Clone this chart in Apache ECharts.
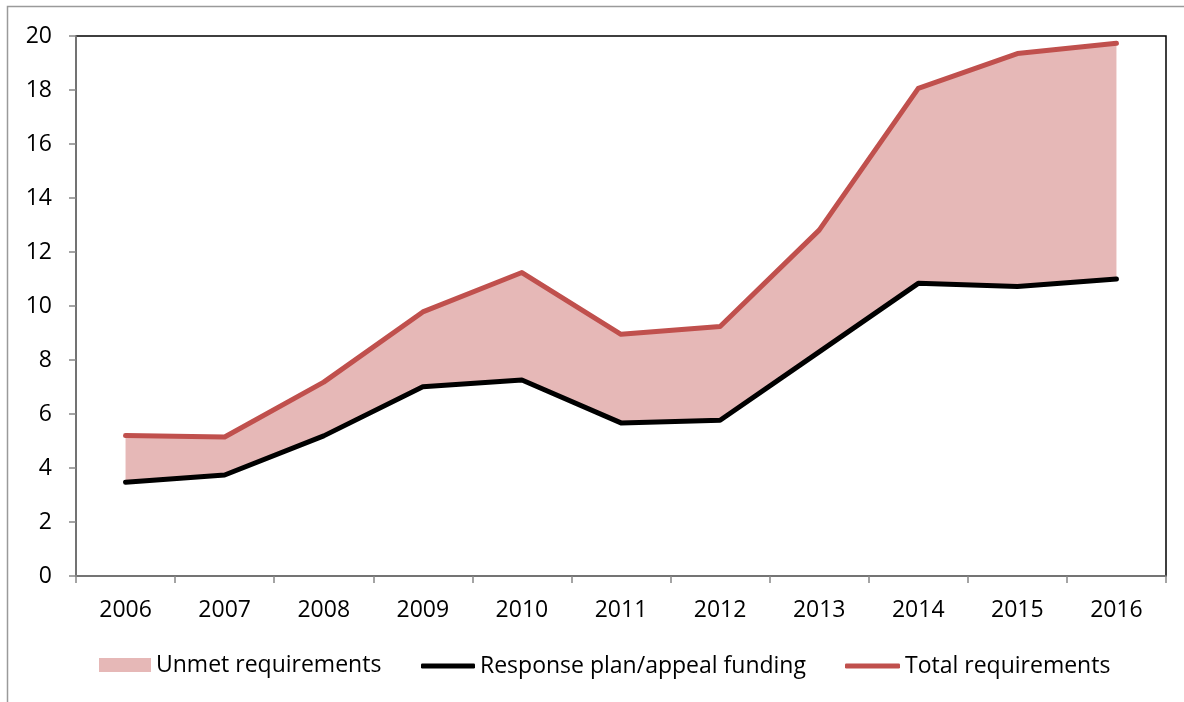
<!DOCTYPE html>
<html>
<head>
<meta charset="utf-8">
<script src="https://cdn.jsdelivr.net/npm/echarts@6/dist/echarts.min.js"></script>
<style>
html,body{margin:0;padding:0;background:#fff;}
#c{width:1184px;height:702px;}
</style>
</head>
<body>
<div id="c"></div>
<script>
var years = ['2006','2007','2008','2009','2010','2011','2012','2013','2014','2015','2016'];
var funding = [3.47, 3.74, 5.19, 7.01, 7.26, 5.67, 5.77, 8.3, 10.84, 10.72, 11.0];
var totalReq = [5.2, 5.15, 7.18, 9.78, 11.24, 8.95, 9.24, 12.81, 18.06, 19.35, 19.73];
var yTicks = {min: 0, max: 20, interval: 2};

var unmet = totalReq.map(function(v, i){ return +(v - funding[i]).toFixed(3); });

var chart = echarts.init(document.getElementById('c'), null, {renderer: 'canvas'});
var font = 'Open Sans';
var legendText = {fontFamily: font, fontSize: 23, color: '#000'};
chart.setOption({
  animation: false,
  backgroundColor: '#fff',
  graphic: [{
    type: 'rect', silent: true, z: -10,
    shape: {x: 7.5, y: 6.5, width: 1300, height: 800},
    style: {fill: 'none', stroke: '#9a9a9a', lineWidth: 1.5}
  }],
  grid: {left: 76, right: 18, top: 36, bottom: 126, show: true, borderColor: '#000', borderWidth: 1.5, backgroundColor: 'transparent'},
  legend: [
    {left: 99, top: 653.5, padding: 0, itemWidth: 52, itemHeight: 14, itemGap: 0, itemTextGap: 6, textStyle: legendText,
     data: [{name: 'Unmet requirements', icon: 'rect'}]},
    {left: 421, top: 654.5, padding: 0, itemWidth: 54, itemHeight: 5, itemGap: 0, itemTextGap: 7, textStyle: legendText,
     data: [{name: 'Response plan/appeal funding', icon: 'roundRect'}]},
    {left: 845, top: 654.5, padding: 0, itemWidth: 55, itemHeight: 5, itemGap: 0, itemTextGap: 7, textStyle: legendText,
     data: [{name: 'Total requirements', icon: 'roundRect'}]}
  ],
  xAxis: {
    type: 'category', data: years, boundaryGap: true,
    axisLine: {lineStyle: {color: '#868686', width: 1.5}},
    axisTick: {show: true, length: 7, lineStyle: {color: '#868686', width: 1.5}},
    axisLabel: {fontFamily: font, fontSize: 23, color: '#000', margin: 23},
    splitLine: {show: false}
  },
  yAxis: {
    type: 'value', min: yTicks.min, max: yTicks.max, interval: yTicks.interval,
    axisLine: {show: true, lineStyle: {color: '#868686', width: 1.5}},
    axisTick: {show: true, length: 7, lineStyle: {color: '#868686', width: 1.5}},
    axisLabel: {fontFamily: font, fontSize: 23, color: '#000', margin: 24},
    splitLine: {show: false}
  },
  series: [
    {name: 'base', type: 'line', stack: 'a', data: funding, symbol: 'none',
     lineStyle: {width: 0, opacity: 0}, silent: true, z: 1},
    {name: 'Unmet requirements', type: 'line', stack: 'a', data: unmet, symbol: 'none',
     color: '#e6b8b7', lineStyle: {width: 0, opacity: 0},
     areaStyle: {color: '#e6b8b7', opacity: 1}, z: 1},
    {name: 'Response plan/appeal funding', type: 'line', data: funding, symbol: 'none',
     color: '#000', lineStyle: {color: '#000', width: 5, cap: 'round', join: 'round'}, z: 3},
    {name: 'Total requirements', type: 'line', data: totalReq, symbol: 'none',
     color: '#c0504d', lineStyle: {color: '#c0504d', width: 5, cap: 'round', join: 'round'}, z: 4}
  ]
});
</script>
</body>
</html>
